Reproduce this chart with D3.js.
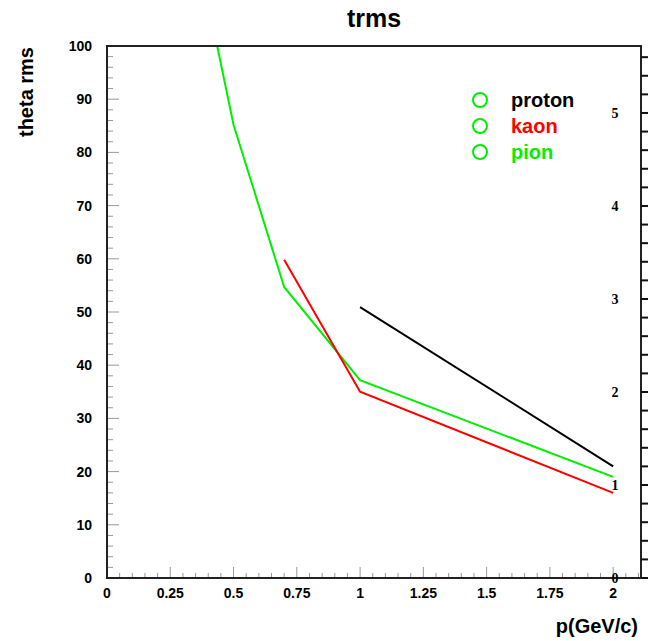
<!DOCTYPE html>
<html>
<head>
<meta charset="utf-8">
<script src="https://cdn.jsdelivr.net/npm/d3@7"></script>
<style>
  body { margin: 0; background: #fff; }
  text { font-family: "Liberation Sans", Arial, sans-serif; font-weight: bold; }
</style>
</head>
<body>
<div id="graf"></div>
<script>
// Datos
const pionP = [0.3, 0.5, 0.7, 1.0, 2.0]
const pionRms = [131, 85.2, 54.7, 37.2, 19.0]
const kaonP = [0.7, 1.0, 2.0]
const kaonRms = [59.8, 35.0, 16.0]
const protonP = [1.0, 2.0]
const protonRms = [50.9, 21.0]

const xTicks = [0, 0.25, 0.5, 0.75, 1, 1.25, 1.5, 1.75, 2]
const xTickLabels = ["0", "0.25", "0.5", "0.75", "1", "1.25", "1.5", "1.75", "2"]
const yTicks = [0, 10, 20, 30, 40, 50, 60, 70, 80, 90, 100]
const rightTicks = [0, 1, 2, 3, 4, 5]

const leyenda = ["proton", "kaon", "pion"]
const colores = { proton: "#000000", kaon: "#ff0000", pion: "#00ee00" }

const draw = () => {
  const anchoTotal = 648
  const altoTotal = 641
  const margins = { top: 46, right: 7, bottom: 63, left: 107 }
  const ancho = anchoTotal - margins.left - margins.right
  const alto = altoTotal - margins.top - margins.bottom

  const x = d3.scaleLinear().domain([0, 2.11]).range([0, ancho])
  const y = d3.scaleLinear().domain([0, 100]).range([alto, 0])
  const yDer = d3.scaleLinear().domain([0, 5.72]).range([alto, 0])

  const svg = d3.select("#graf")
    .append("svg")
    .attr("width", anchoTotal)
    .attr("height", altoTotal)

  svg.append("clipPath")
    .attr("id", "clip")
    .append("rect")
    .attr("width", ancho)
    .attr("height", alto)

  const chart = svg.append("g")
    .attr("transform", `translate(${margins.left}, ${margins.top})`)

  // Ticks eje x (hacia arriba)
  const xMinor = d3.range(0, 2.1 + 1e-9, 0.05)
  chart.selectAll("line.xt")
    .data(xMinor)
    .join("line")
    .attr("x1", (d) => x(d)).attr("x2", (d) => x(d))
    .attr("y1", alto)
    .attr("y2", (d) => Math.abs(d / 0.25 - Math.round(d / 0.25)) < 1e-6 ? alto - 11 : alto - 5)
    .attr("stroke", "#999").attr("stroke-width", 1)

  // Ticks eje y (hacia la derecha)
  const yMinor = d3.range(0, 100 + 1e-9, 2)
  chart.selectAll("line.yt")
    .data(yMinor)
    .join("line")
    .attr("y1", (d) => y(d)).attr("y2", (d) => y(d))
    .attr("x1", 0)
    .attr("x2", (d) => d % 10 === 0 ? 12 : 6)
    .attr("stroke", "#999").attr("stroke-width", 1)

  // Etiquetas
  chart.selectAll("text.xl")
    .data(xTicks)
    .join("text")
    .attr("x", (d) => x(d))
    .attr("y", alto + 20)
    .attr("text-anchor", "middle")
    .attr("font-size", 14)
    .text((d, i) => xTickLabels[i])

  chart.selectAll("text.yl")
    .data(yTicks)
    .join("text")
    .attr("x", -15)
    .attr("y", (d) => y(d) + 5)
    .attr("text-anchor", "end")
    .attr("font-size", 14)
    .text((d) => d)

  // Lineas
  const series = [
    { nombre: "pion", p: pionP, v: pionRms },
    { nombre: "kaon", p: kaonP, v: kaonRms },
    { nombre: "proton", p: protonP, v: protonRms }
  ]
  const linea = d3.line().x((d) => x(d[0])).y((d) => y(d[1]))
  chart.append("g")
    .attr("clip-path", "url(#clip)")
    .selectAll("path")
    .data(series)
    .join("path")
    .attr("fill", "none")
    .attr("stroke", (d) => colores[d.nombre])
    .attr("stroke-width", 2)
    .attr("d", (d) => linea(d.p.map((p, i) => [p, d.v[i]])))

  // Marco
  chart.append("rect")
    .attr("width", ancho)
    .attr("height", alto)
    .attr("fill", "none")
    .attr("stroke", "#222")
    .attr("stroke-width", 2)

  // Eje derecho
  const der = svg.append("g")
    .attr("transform", `translate(${margins.left + ancho}, ${margins.top})`)
  der.selectAll("line")
    .data(d3.range(0, 5.72, 0.2))
    .join("line")
    .attr("x1", 0).attr("x2", 8)
    .attr("y1", (d) => yDer(d)).attr("y2", (d) => yDer(d))
    .attr("stroke", "#111").attr("stroke-width", 2)
  der.selectAll("text")
    .data(rightTicks)
    .join("text")
    .attr("x", -26)
    .attr("y", (d) => yDer(d) + 5)
    .attr("text-anchor", "middle")
    .attr("font-size", 14)
    .style("font-family", "'Liberation Serif', 'Times New Roman', serif")
    .text((d) => d)

  // Titulos
  svg.append("text")
    .attr("x", 374).attr("y", 27)
    .attr("text-anchor", "middle")
    .attr("font-size", 25)
    .text("trms")

  svg.append("text")
    .attr("x", 638).attr("y", 633)
    .attr("text-anchor", "end")
    .attr("font-size", 20)
    .text("p(GeV/c)")

  svg.append("text")
    .attr("transform", "translate(33, 47) rotate(-90)")
    .attr("text-anchor", "end")
    .attr("font-size", 20)
    .text("theta rms")

  // Leyenda
  const ley = svg.append("g")
  ley.selectAll("circle")
    .data(leyenda)
    .join("circle")
    .attr("cx", 480)
    .attr("cy", (d, i) => 100 + i * 26)
    .attr("r", 7)
    .attr("fill", "none")
    .attr("stroke", colores.pion)
    .attr("stroke-width", 2)
  ley.selectAll("text")
    .data(leyenda)
    .join("text")
    .attr("x", 511)
    .attr("y", (d, i) => 107 + i * 26)
    .attr("font-size", 20)
    .attr("fill", (d) => colores[d])
    .text((d) => d)
}

draw()
</script>
</body>
</html>
